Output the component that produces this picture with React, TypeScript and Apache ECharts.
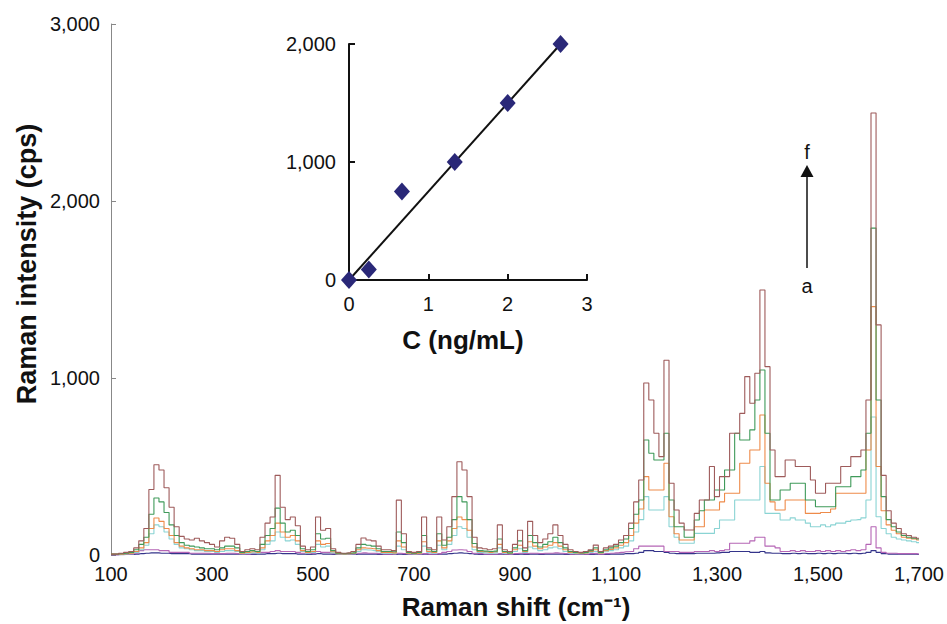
import React, { useEffect, useRef } from "react";
import * as echarts from "echarts";

// Raman shift grid (cm-1)
const shift = [
  100, 110, 120, 130, 140, 150, 160, 170, 180, 190,
  200, 210, 220, 230, 240, 250, 260, 270, 280, 290,
  300, 310, 320, 330, 340, 350, 360, 370, 380, 390,
  400, 410, 420, 430, 440, 450, 460, 470, 480, 490,
  500, 510, 520, 530, 540, 550, 560, 570, 580, 590,
  600, 610, 620, 630, 640, 650, 660, 670, 680, 690,
  700, 710, 720, 730, 740, 750, 760, 770, 780, 790,
  800, 810, 820, 830, 840, 850, 860, 870, 880, 890,
  900, 910, 920, 930, 940, 950, 960, 970, 980, 990,
  1000, 1010, 1020, 1030, 1040, 1050, 1060, 1070, 1080, 1090,
  1100, 1110, 1120, 1130, 1140, 1150, 1160, 1170, 1180, 1190,
  1200, 1210, 1220, 1230, 1240, 1250, 1260, 1270, 1280, 1290,
  1300, 1310, 1320, 1330, 1340, 1350, 1360, 1370, 1380, 1390,
  1400, 1410, 1420, 1430, 1440, 1450, 1460, 1470, 1480, 1490,
  1500, 1510, 1520, 1530, 1540, 1550, 1560, 1570, 1580, 1590,
  1600, 1610, 1620, 1630, 1640, 1650, 1660, 1670, 1680, 1690,
  1700,
];

const specA = [
  0, 0, 2, 3, 3, 5, 8, 10, 12, 12,
  10, 10, 8, 8, 8, 8, 5, 5, 5, 5,
  5, 5, 5, 5, 5, 5, 3, 3, 3, 5,
  5, 8, 8, 10, 8, 8, 8, 5, 5, 3,
  5, 8, 5, 5, 3, 3, 3, 3, 3, 5,
  5, 5, 5, 3, 3, 3, 3, 5, 3, 3,
  3, 3, 5, 3, 3, 5, 5, 8, 10, 12,
  10, 8, 5, 3, 3, 3, 3, 5, 3, 3,
  3, 5, 3, 5, 5, 3, 5, 5, 5, 5,
  3, 3, 3, 3, 3, 3, 5, 3, 3, 5,
  5, 5, 8, 8, 10, 15, 25, 25, 20, 20,
  15, 10, 8, 8, 8, 8, 10, 10, 10, 10,
  12, 15, 15, 20, 20, 20, 20, 15, 15, 20,
  12, 10, 10, 8, 8, 10, 8, 10, 8, 8,
  10, 8, 10, 8, 10, 10, 8, 10, 8, 10,
  15, 25, 15, 8, 5, 5, 5, 5, 5, 5,
  3,
];

const specB = [
  0, 0, 5, 5, 5, 10, 25, 30, 30, 30,
  25, 25, 15, 15, 15, 15, 10, 10, 10, 10,
  8, 8, 8, 10, 10, 8, 5, 5, 8, 10,
  15, 15, 20, 25, 20, 20, 20, 15, 10, 8,
  10, 20, 15, 15, 8, 5, 5, 5, 5, 10,
  12, 10, 10, 8, 5, 5, 5, 10, 8, 5,
  5, 5, 8, 5, 5, 8, 15, 20, 28, 30,
  28, 20, 10, 8, 5, 5, 5, 8, 5, 5,
  8, 10, 8, 10, 10, 8, 10, 10, 12, 10,
  8, 5, 5, 5, 5, 8, 10, 5, 8, 10,
  12, 15, 18, 20, 35, 50, 50, 50, 50, 50,
  20, 20, 20, 15, 15, 15, 20, 20, 20, 25,
  20, 25, 30, 66, 66, 66, 66, 80, 100, 100,
  50, 50, 40, 20, 20, 25, 20, 25, 20, 20,
  25, 20, 25, 20, 25, 20, 25, 30, 25, 30,
  60, 160, 40, 15, 10, 10, 8, 8, 8, 8,
  5,
];

const specC = [
  3, 3, 5, 6, 8, 15, 30, 55, 120, 170,
  160, 130, 90, 60, 40, 35, 30, 25, 25, 20,
  20, 15, 20, 25, 25, 20, 8, 10, 12, 10,
  30, 60, 80, 130, 100, 80, 85, 60, 20, 10,
  15, 60, 45, 50, 12, 6, 5, 6, 8, 20,
  30, 28, 25, 18, 10, 10, 8, 50, 30, 8,
  6, 8, 50, 15, 10, 55, 30, 60, 110, 160,
  150, 100, 30, 15, 12, 10, 12, 40, 10, 8,
  20, 35, 15, 45, 35, 25, 30, 40, 45, 35,
  20, 10, 8, 8, 10, 15, 20, 10, 18, 25,
  30, 40, 50, 80, 130, 200, 330, 254, 254, 254,
  330, 160, 100, 66, 66, 66, 122, 122, 122, 122,
  150, 198, 198, 198, 311, 311, 311, 311, 311, 500,
  235, 235, 235, 198, 198, 210, 198, 198, 180, 160,
  160, 170, 160, 170, 180, 180, 190, 198, 200, 210,
  311, 780, 216, 150, 120, 100, 90, 85, 80, 75,
  70,
];

const specD = [
  5, 5, 5, 8, 10, 20, 40, 70, 150, 209,
  190, 150, 110, 70, 50, 40, 35, 30, 30, 25,
  25, 20, 30, 35, 35, 25, 10, 15, 18, 15,
  40, 80, 110, 180, 130, 100, 110, 80, 25, 15,
  20, 80, 60, 65, 18, 8, 6, 8, 10, 30,
  40, 38, 35, 25, 15, 15, 12, 80, 45, 10,
  8, 10, 75, 20, 15, 80, 40, 80, 150, 215,
  200, 140, 45, 20, 18, 15, 18, 60, 15, 10,
  30, 55, 20, 75, 50, 35, 45, 55, 70, 50,
  30, 15, 12, 10, 12, 20, 30, 12, 25, 32,
  40, 55, 70, 110, 180, 260, 443, 367, 367, 367,
  518, 216, 120, 85, 85, 85, 160, 160, 254, 254,
  254, 300, 349, 349, 349, 518, 518, 593, 593, 791,
  405, 300, 254, 254, 311, 311, 311, 311, 235, 235,
  235, 240, 240, 260, 349, 349, 349, 349, 349, 349,
  593, 1403, 500, 250, 170, 140, 120, 100, 95, 90,
  85,
];

const specE = [
  5, 5, 8, 10, 15, 30, 60, 100, 230, 322,
  300, 240, 170, 110, 70, 55, 50, 45, 40, 35,
  35, 30, 40, 50, 50, 40, 15, 20, 25, 20,
  60, 110, 150, 265, 180, 130, 140, 110, 35, 20,
  30, 120, 90, 95, 25, 10, 8, 10, 12, 40,
  60, 55, 50, 35, 20, 20, 18, 130, 70, 15,
  10, 15, 110, 30, 20, 120, 55, 100, 200, 330,
  300, 200, 65, 25, 22, 20, 22, 90, 20, 12,
  40, 80, 25, 110, 70, 45, 60, 75, 100, 70,
  40, 20, 15, 12, 15, 25, 40, 15, 30, 40,
  50, 70, 90, 150, 230, 311, 650, 575, 537, 537,
  688, 311, 160, 160, 100, 100, 198, 250, 311, 311,
  367, 367, 480, 480, 688, 650, 650, 707, 876, 1045,
  688, 311, 311, 367, 367, 405, 405, 405, 311, 311,
  273, 273, 273, 273, 386, 386, 386, 443, 443, 480,
  688, 1847, 876, 330, 200, 160, 130, 110, 100, 95,
  90,
];

const specF = [
  5, 5, 10, 15, 20, 40, 80, 150, 370, 510,
  480, 380, 270, 160, 105, 90, 85, 95, 80, 70,
  60, 45, 80, 100, 95, 60, 20, 30, 35, 30,
  100, 180, 215, 450, 270, 200, 215, 165, 50, 30,
  45, 215, 140, 150, 35, 15, 10, 12, 20, 60,
  96, 85, 80, 50, 30, 30, 25, 310, 120, 20,
  15, 20, 215, 40, 30, 215, 85, 160, 330, 527,
  480, 330, 100, 40, 35, 30, 35, 170, 30, 20,
  60, 140, 40, 190, 110, 70, 90, 120, 170, 110,
  60, 30, 20, 15, 20, 30, 56, 20, 40, 50,
  60, 85, 110, 180, 300, 424, 972, 876, 688, 556,
  1100, 405, 254, 180, 141, 141, 235, 311, 311, 500,
  330, 443, 443, 688, 688, 800, 1008, 857, 1027, 1497,
  1064, 593, 443, 443, 537, 537, 500, 500, 500, 424,
  349, 349, 405, 405, 405, 500, 500, 556, 556, 593,
  876, 2497, 1300, 450, 250, 180, 150, 120, 110, 100,
  95,
];

const spectraNames = ["a", "b", "c", "d", "e", "f"];
const spectraColors = ["#34348A", "#B565B5", "#8AD4D4", "#EE8B4A", "#3F9A5A", "#9E5B5B"];

const mainXTicks = [100, 300, 500, 700, 900, 1100, 1300, 1500, 1700];
const mainYTicks = [0, 1000, 2000, 3000];

// Inset calibration
const concentration = [0, 0.25, 0.667, 1.333, 2.0, 2.667];
const intensity = [0, 90, 750, 1000, 1500, 2000];
const fitC = [0, 2.667];
const fitI = [0, 2000];

const FONT = "'Liberation Sans', Arial, Helvetica, sans-serif";

const fmt = (v: number) => v.toLocaleString("en-US");

export default function App() {
  const ref = useRef<HTMLDivElement>(null);

  useEffect(() => {
    if (!ref.current) return;
    const chart = echarts.init(ref.current, undefined, { renderer: "svg" });
    const spectra = [specA, specB, specC, specD, specE, specF];

    const lineSeries = spectra.map((vals, i) => ({
      name: spectraNames[i],
      type: "line",
      xAxisIndex: 0,
      yAxisIndex: 0,
      step: "middle",
      showSymbol: false,
      symbol: "none",
      lineStyle: { color: spectraColors[i], width: 1.1 },
      data: shift.map((x, k) => [x, vals[k]]),
      z: 2 + i,
    }));

    chart.setOption({
      animation: false,
      backgroundColor: "#ffffff",
      textStyle: { fontFamily: FONT },
      grid: [
        { left: 111, right: 26, top: 24, bottom: 69, containLabel: false },
        { left: 349, top: 44, width: 238, height: 236, containLabel: false },
      ],
      xAxis: [
        {
          type: "value",
          gridIndex: 0,
          min: mainXTicks[0],
          max: mainXTicks[mainXTicks.length - 1],
          interval: 200,
          axisLine: { show: false },
          axisTick: { show: false },
          splitLine: { show: false },
          axisLabel: {
            fontSize: 20,
            color: "#111",
            margin: 9,
            fontFamily: FONT,
            formatter: (v: number) => fmt(v),
          },
        },
        {
          type: "value",
          gridIndex: 1,
          min: 0,
          max: 3,
          interval: 1,
          axisLine: { show: true, onZero: false, lineStyle: { color: "#111", width: 2 } },
          axisTick: { show: true, inside: true, length: 6, lineStyle: { color: "#111", width: 2 } },
          splitLine: { show: false },
          axisLabel: { fontSize: 20, color: "#111", margin: 14, fontFamily: FONT },
        },
      ],
      yAxis: [
        {
          type: "value",
          gridIndex: 0,
          min: mainYTicks[0],
          max: mainYTicks[mainYTicks.length - 1],
          interval: 1000,
          axisLine: { show: true, lineStyle: { color: "#888", width: 1 } },
          axisTick: { show: true, inside: true, length: 5, lineStyle: { color: "#888" } },
          splitLine: { show: false },
          axisLabel: {
            fontSize: 20,
            color: "#111",
            margin: 11,
            fontFamily: FONT,
            formatter: (v: number) => fmt(v),
          },
        },
        {
          type: "value",
          gridIndex: 1,
          min: 0,
          max: 2000,
          interval: 1000,
          axisLine: { show: true, onZero: false, lineStyle: { color: "#111", width: 2 } },
          axisTick: { show: true, inside: true, length: 6, lineStyle: { color: "#111", width: 2 } },
          splitLine: { show: false },
          axisLabel: {
            fontSize: 20,
            color: "#111",
            margin: 13,
            fontFamily: FONT,
            formatter: (v: number) => fmt(v),
          },
        },
      ],
      series: [
        ...lineSeries,
        {
          type: "line",
          xAxisIndex: 1,
          yAxisIndex: 1,
          showSymbol: false,
          symbol: "none",
          lineStyle: { color: "#111", width: 2 },
          data: fitC.map((c, k) => [c, fitI[k]]),
          z: 10,
        },
        {
          type: "scatter",
          xAxisIndex: 1,
          yAxisIndex: 1,
          symbol: "diamond",
          symbolSize: [16, 18],
          itemStyle: { color: "#2A2878", opacity: 1 },
          data: concentration.map((c, k) => [c, intensity[k]]),
          z: 11,
        },
      ],
      graphic: [
        {
          type: "text",
          x: 516,
          y: 607,
          style: {
            text: "Raman shift (cm\u207B\u00B9)",
            font: `bold 26px ${FONT}`,
            fill: "#111",
            textAlign: "center",
            textVerticalAlign: "middle",
            align: "center",
            verticalAlign: "middle",
          },
        },
        {
          type: "text",
          x: 27,
          y: 264,
          rotation: Math.PI / 2,
          style: {
            text: "Raman intensity (cps)",
            font: `bold 27px ${FONT}`,
            fill: "#111",
            textAlign: "center",
            textVerticalAlign: "middle",
            align: "center",
            verticalAlign: "middle",
          },
        },
        {
          type: "text",
          x: 463,
          y: 340,
          style: {
            text: "C (ng/mL)",
            font: `bold 26px ${FONT}`,
            fill: "#111",
            textAlign: "center",
            textVerticalAlign: "middle",
            align: "center",
            verticalAlign: "middle",
          },
        },
        {
          type: "line",
          shape: { x1: 807, y1: 268, x2: 807, y2: 176 },
          style: { stroke: "#111", lineWidth: 1.5 },
        },
        {
          type: "polygon",
          shape: { points: [[800.5, 177], [813.5, 177], [807, 165]] },
          style: { fill: "#111" },
        },
        {
          type: "text",
          x: 807,
          y: 152,
          style: {
            text: "f",
            font: `20px ${FONT}`,
            fill: "#111",
            textAlign: "center",
            textVerticalAlign: "middle",
            align: "center",
            verticalAlign: "middle",
          },
        },
        {
          type: "text",
          x: 807,
          y: 286,
          style: {
            text: "a",
            font: `20px ${FONT}`,
            fill: "#111",
            textAlign: "center",
            textVerticalAlign: "middle",
            align: "center",
            verticalAlign: "middle",
          },
        },
      ],
    });

    return () => {
      chart.dispose();
    };
  }, []);

  return (
    <div
      ref={ref}
      style={{ position: "fixed", left: 0, top: 0, width: 947, height: 624, background: "#fff" }}
    />
  );
}
